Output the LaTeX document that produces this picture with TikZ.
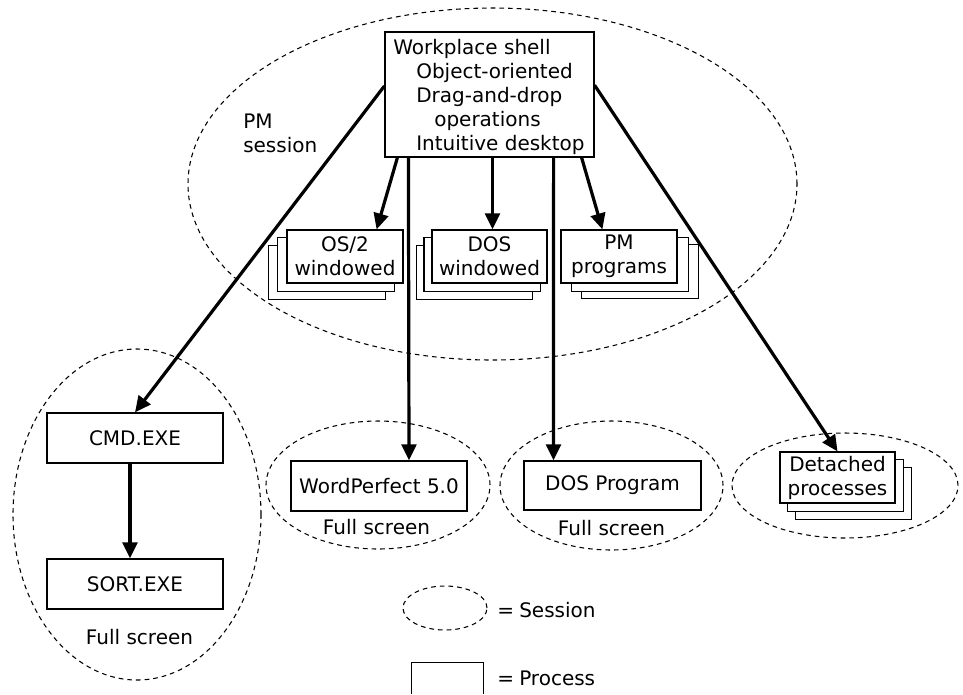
\documentclass[tikz,border=0pt]{standalone}
\usepackage{fontspec}
\setmainfont{DejaVu Sans}
\usetikzlibrary{arrows.meta,shapes.geometric,backgrounds}
\begin{document}
\begin{tikzpicture}[x=0.75pt,y=-0.75pt,
  font=\fontsize{15}{18}\selectfont,
  box/.style={draw, line width=0.9pt, inner sep=0pt, fill=white, align=center},
  backbox/.style={draw, line width=0.9pt, fill=white},
  sess/.style={draw, ellipse, dash pattern=on 3.5pt off 3pt, line width=0.8pt, inner sep=0pt},
  arr/.style={line width=2.4pt, -{Triangle[length=12pt,width=11pt]}},
  lbl/.style={inner sep=0pt}]
\useasboundingbox (0,0) rectangle (963,694);

% sessions
\node[sess, minimum width=456.75pt, minimum height=264pt] (pms) at (492.5,184) {};
\node[sess, minimum width=186pt, minimum height=248.25pt] (cmds) at (137,514.5) {};
\node[sess, minimum width=168pt, minimum height=96pt] (wps) at (378,485) {};
\node[sess, minimum width=167.25pt, minimum height=96.75pt] (doss) at (611.5,485.5) {};
\node[sess, minimum width=169.5pt, minimum height=78.75pt] (dets) at (845,485.5) {};

% workplace shell
\node[box, minimum width=156.75pt, minimum height=93.75pt] (ws) at (489.5,94.5) {};
\node[lbl, anchor=base west] (t1) at (393,54) {Workplace shell};
\node[lbl, anchor=base west] (t2) at (416,78) {Object-oriented};
\node[lbl, anchor=base west] (t3) at (416,102) {Drag-and-drop};
\node[lbl, anchor=base west] (t4) at (434,126) {operations};
\node[lbl, anchor=base west] (t5) at (416,150) {Intuitive desktop};

\node[lbl, anchor=base west] (pm1) at (243,128) {PM};
\node[lbl, anchor=base west] (pm2) at (243,152) {session};

% windowed programs (stacked)
\node[box, minimum width=87pt, minimum height=39.75pt] (os2) at (345,256.5) {OS/2\\windowed};
\node[box, minimum width=86.25pt, minimum height=39.75pt] (dosw) at (489.5,256.5) {DOS\\windowed};
\node[box, minimum width=87pt, minimum height=39.75pt] (pmp) at (619,256.5) {PM\\programs};
\node[box, minimum width=86.25pt, minimum height=38.25pt] (det) at (837.5,477.5) {Detached\\processes};

\begin{scope}[on background layer]
  \draw[backbox] ([shift={(-18,16)}]os2.north west) rectangle ([shift={(-18,16)}]os2.south east);
  \draw[backbox] ([shift={(-9,8)}]os2.north west) rectangle ([shift={(-9,8)}]os2.south east);
  \draw[backbox] ([shift={(-15,16)}]dosw.north west) rectangle ([shift={(-15,16)}]dosw.south east);
  \draw[backbox] ([shift={(-7.5,8)}]dosw.north west) rectangle ([shift={(-7.5,8)}]dosw.south east);
  \draw[backbox] ([shift={(21,15)}]pmp.north west) rectangle ([shift={(21,15)}]pmp.south east);
  \draw[backbox] ([shift={(11,8)}]pmp.north west) rectangle ([shift={(11,8)}]pmp.south east);
  \draw[backbox] ([shift={(16,16)}]det.north west) rectangle ([shift={(16,16)}]det.south east);
  \draw[backbox] ([shift={(8,8)}]det.north west) rectangle ([shift={(8,8)}]det.south east);
\end{scope}

% full-screen programs
\node[box, minimum width=132pt, minimum height=37.5pt] (cmd) at (135,438) {CMD.EXE};
\node[box, minimum width=132pt, minimum height=37.5pt] (sort) at (135,584) {SORT.EXE};
\node[box, minimum width=132pt, minimum height=37.5pt] (wp) at (379,486) {WordPerfect 5.0};
\node[box, minimum width=132.75pt, minimum height=36.75pt] (dosp) at (612.5,485.5) {DOS Program};

\node[lbl, anchor=base] (fs1) at (139.5,644) {Full screen};
\node[lbl, anchor=base] (fs2) at (376.5,534) {Full screen};
\node[lbl, anchor=base] (fs3) at (611.5,535) {Full screen};

% connectors
\draw[arr] ([yshift=6.4pt]ws.west) -- (cmd.north);
\draw[arr] ([yshift=7pt]ws.east) -- (det.north);
\draw[arr] ([xshift=9.75pt]ws.south west) -- ([xshift=-20.25pt]os2.north east);
\draw[arr] ([xshift=2.25pt]ws.south) -- ([xshift=2.25pt]dosw.north);
\draw[arr] ([xshift=-9.75pt]ws.south east) -- ([xshift=31.5pt]pmp.north west);
\draw[arr] ([xshift=18pt]ws.south west) -- ([xshift=22.5pt]wp.north);
\draw[arr] ([xshift=-30.75pt]ws.south east) -- ([xshift=-44.25pt]dosp.north);
\draw[arr] ([xshift=-3.75pt]cmd.south) -- ([xshift=-3.75pt]sort.north);

% legend
\node[sess, minimum width=63pt, minimum height=33pt] (legs) at (445,608) {};
\node[lbl, anchor=base west] (eq1) at (497,617) {=};
\node[lbl, anchor=base west] (legst) at (519,617) {Session};
\node[inner sep=0pt, minimum width=53.25pt, minimum height=23.25pt] (legb) at (447.5,678.5) {};
\draw[line width=0.9pt] (legb.south west) -- (legb.north west) -- (legb.north east) -- (legb.south east);
\node[lbl, anchor=base west] (eq2) at (497,685) {=};
\node[lbl, anchor=base west] (legpt) at (519,685) {Process};
\end{tikzpicture}
\end{document}
